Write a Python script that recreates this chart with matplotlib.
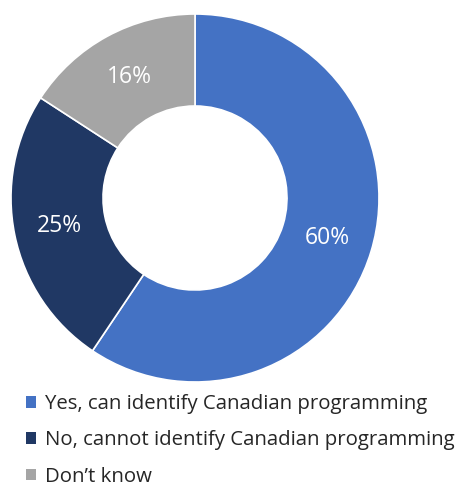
import matplotlib.pyplot as plt

labels = ["Yes, can identify Canadian programming",
          "No, cannot identify Canadian programming",
          "Don\u2019t know"]
values = [60, 25, 16]
colors = ["#4472C4", "#203864", "#A5A5A5"]

plt.rcParams['font.family'] = ['Open Sans', 'DejaVu Sans']

fig = plt.figure(figsize=(4.6, 4.82), dpi=100)
W, H = 460, 482
cx, cy, r = 195, 198, 184
ax = fig.add_axes([(cx - r) / W, (H - cy - r) / H, 2 * r / W, 2 * r / H])

wedges, texts = ax.pie(values, colors=colors, startangle=90, counterclock=False,
                       radius=1.0, labels=[f"{v}%" for v in values],
                       labeldistance=0.75,
                       wedgeprops=dict(width=0.5, edgecolor="white", linewidth=1.2),
                       textprops=dict(color="white", fontsize=16.5))
for t in texts:
    t.set_ha("center")
    t.set_va("center")
ax.set_xlim(-1, 1)
ax.set_ylim(-1, 1)
ax.set_aspect("equal")
ax.axis("off")

# legend squares without the white wedge outline
handles = [plt.Rectangle((0, 0), 1, 1, facecolor=c, edgecolor="none") for c in colors]
fig.legend(handles, labels, loc="upper left", bbox_to_anchor=(26 / W, 1 - 394 / H),
           frameon=False, fontsize=14.7, handlelength=0.5, handleheight=0.5,
           handletextpad=0.45, labelspacing=0.8, borderpad=0, borderaxespad=0,
           labelcolor="#262626")

fig.savefig("out.png", dpi=100)
